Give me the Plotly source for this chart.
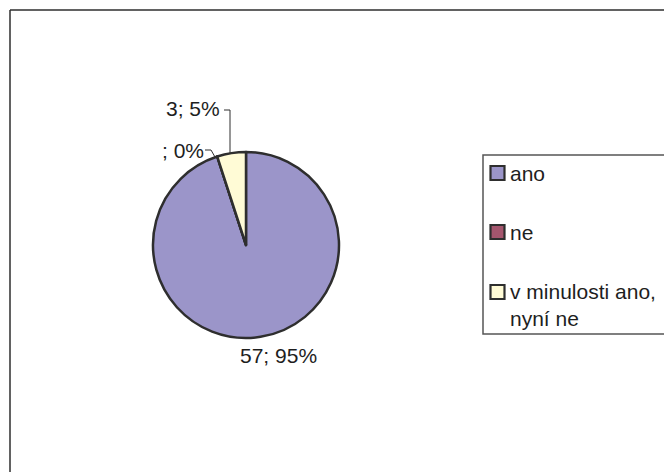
import plotly.graph_objects as go

# Survey answers and counts (the "ne" cell is empty in the source table)
labels = ["ano", "ne", "v minulosti ano,<br>nyní ne"]
counts = [57, None, 3]
colors = ["#9B95C9", "#A5566E", "#FFFBD6"]

W, H = 664, 472
FONT = "Liberation Sans, Arial, sans-serif"
FS = 21
INK = "#1e1e1e"
EDGE = "#2e2e2e"


def px(x):
    return x / W


def py(y):
    return 1 - y / H


values = [c if c is not None else 0 for c in counts]
total = sum(values)
pcts = [round(100 * v / total) for v in values]
slice_text = [f"{'' if c is None else c}; {p}%" for c, p in zip(counts, pcts)]

# Pie geometry in pixels
cx, cy, r = 246, 245, 93

fig = go.Figure(
    go.Pie(
        labels=labels,
        values=values,
        sort=False,
        direction="clockwise",
        rotation=0,
        marker=dict(colors=colors, line=dict(color=EDGE, width=2.5)),
        textinfo="none",
        hoverinfo="label+value+percent",
        showlegend=False,
        domain=dict(x=[px(cx - r), px(cx + r)], y=[py(cy + r), py(cy - r)]),
    )
)

shapes = []
annotations = []

# Outer chart-area frame (top and left edges visible)
shapes.append(dict(type="line", xref="paper", yref="paper",
                   x0=px(10), y0=py(10), x1=1.02, y1=py(10),
                   line=dict(color=EDGE, width=1.5)))
shapes.append(dict(type="line", xref="paper", yref="paper",
                   x0=px(10), y0=py(10), x1=px(10), y1=-0.02,
                   line=dict(color=EDGE, width=1.5)))

# Data labels with leader lines
label_pos = [(278, 355), (183, 150), (193, 109)]
for t, (lx, ly) in zip(slice_text, label_pos):
    annotations.append(dict(x=px(lx), y=py(ly), xref="paper", yref="paper",
                            text=t, showarrow=False, xanchor="center", yanchor="middle",
                            font=dict(family=FONT, size=FS, color=INK)))

leaders = [
    [(205, 150), (211, 150), (215, 157)],
    [(224, 110), (230, 110), (230, 153)],
]
for pts in leaders:
    path = "M " + " L ".join(f"{px(x)},{py(y)}" for x, y in pts)
    shapes.append(dict(type="path", xref="paper", yref="paper", path=path,
                       line=dict(color=EDGE, width=1)))

# Legend box
shapes.append(dict(type="rect", xref="paper", yref="paper",
                   x0=px(483), y0=py(334), x1=1.05, y1=py(155),
                   line=dict(color="#555555", width=1.5), fillcolor="rgba(0,0,0,0)"))

item_y = [173, 232, 292]
line_h = 26
for lab, col, yc in zip(labels, colors, item_y):
    shapes.append(dict(type="rect", xref="paper", yref="paper",
                       x0=px(490.5), y0=py(yc + 7), x1=px(504.5), y1=py(yc - 7),
                       line=dict(color=EDGE, width=2.2), fillcolor=col))
    n = lab.count("<br>") + 1
    annotations.append(dict(x=px(508), y=py(yc + (n - 1) * line_h / 2),
                            xref="paper", yref="paper", text=lab, showarrow=False,
                            xanchor="left", yanchor="middle", align="left",
                            font=dict(family=FONT, size=FS, color=INK)))

fig.update_layout(
    width=W, height=H,
    margin=dict(l=0, r=0, t=0, b=0),
    paper_bgcolor="white", plot_bgcolor="white",
    shapes=shapes, annotations=annotations,
)

fig.write_html("out.html")
